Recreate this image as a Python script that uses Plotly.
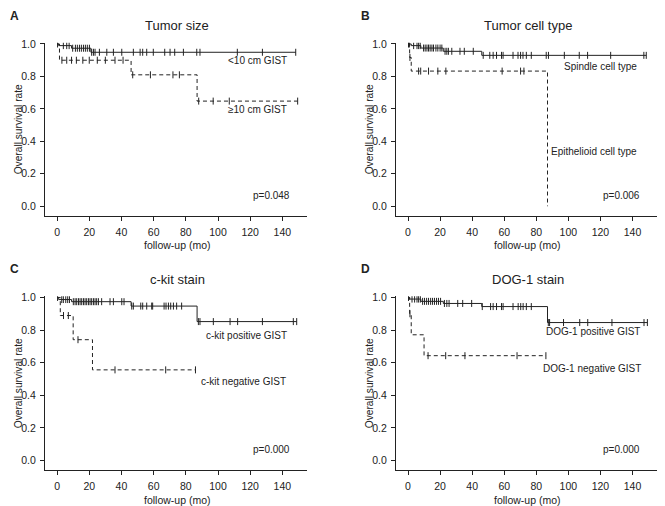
import plotly.graph_objects as go

# page body has an 8px margin, so the figure is drawn 8px smaller and shifted
W, H = 665, 506
OFF = 8
FW, FH = W - OFF, H - OFF
INK = "#222222"
FONT = "Liberation Sans, Arial, sans-serif"

# ---- A: tumor size ----
a_small_t = [0, 1, 9, 21]
a_small_s = [1.0, 0.99, 0.974, 0.949]
a_small_end = 148.3
a_small_cens = [0.3, 3.9, 6, 7.5, 9.7, 11.4, 12.6, 13.9, 15.1, 16.4, 17.6, 18.8, 20.1,
                21.5, 22.6, 23.6, 26.3, 30.9, 35, 40.2, 47.4, 51.6, 53.2, 55.7, 59.8,
                66.9, 70.2, 73.1, 78.5, 86.8, 88.8, 112, 127.6, 148.3]
a_large_t = [0, 1.5, 46, 87]
a_large_s = [1.0, 0.9, 0.81, 0.648]
a_large_end = 149.5
a_large_cens = [3, 6, 9, 12, 16, 20, 25, 30, 36, 41, 47, 58, 72, 76, 88, 97, 107, 149.5]

# ---- B: tumor cell type ----
b_spin_t = [0, 2, 8, 22, 46]
b_spin_s = [1.0, 0.99, 0.975, 0.955, 0.93]
b_spin_end = 148.6
b_spin_cens = [0.3, 0.8, 3.5, 5.6, 6.6, 7.6, 9.7, 10.7, 11.8, 12.8, 13.8, 14.9, 15.9, 17.4,
               18.6, 20, 21.1, 23.1, 24.2, 25.2, 27.3, 32.4, 35.1, 40.7, 46.9, 51, 53.1,
               55.2, 58.3, 59.3, 65.5, 68.6, 70.2, 71.7, 73.8, 76.9, 86.2, 87.6, 97.5,
               106.8, 112, 126.4, 147.1, 148.6]
b_epi_t = [0, 1, 2, 87]
b_epi_s = [1.0, 0.917, 0.833, 0.0]
b_epi_end = 87
b_epi_cens = [1.2, 6.6, 7.9, 12.8, 18.6, 23.6, 58.7, 70.2, 72.3]

# ---- C: c-kit stain ----
c_pos_t = [0, 1, 9, 46, 87]
c_pos_s = [1.0, 0.987, 0.974, 0.947, 0.852]
c_pos_end = 148.9
c_pos_cens = [0.3, 2.9, 3.9, 5.4, 6.6, 7.7, 10.1, 11.2, 12.2, 13.3, 14.3, 15.3, 16.4, 17.4,
              18.4, 19.5, 20.5, 21.5, 22.6, 23.6, 24.6, 25.7, 27.7, 32.9, 35, 40.2, 41.6,
              46.4, 47.4, 52, 53.2, 55.7, 58.8, 59.4, 66.5, 67.7, 69.2, 70.6, 72.3, 74.3,
              77.4, 87.8, 88.8, 97.1, 107.5, 112.2, 127.6, 146.8, 148.9]
c_neg_t = [0, 2, 10, 22]
c_neg_s = [1.0, 0.889, 0.741, 0.556]
c_neg_end = 86
c_neg_cens = [4, 7, 13, 36, 67.5, 86]

# ---- D: DOG-1 stain ----
d_pos_t = [0, 1, 8, 22, 46, 87]
d_pos_s = [1.0, 0.99, 0.976, 0.963, 0.944, 0.846]
d_pos_end = 149.3
d_pos_cens = [0.3, 2.5, 4.1, 5.6, 6.6, 7.7, 9.1, 10.3, 11.6, 12.8, 14.1, 15.3, 16.5, 17.8,
              19, 20.3, 22.7, 24.2, 25.6, 31, 34.1, 39.7, 46.3, 51.5, 53.1, 55.2, 58.3,
              59.3, 65.5, 68.7, 70.3, 71.8, 73.8, 76.9, 87.5, 88.3, 97, 107.1, 112.1,
              127.2, 147.2, 149.3]
d_neg_t = [0, 1, 2, 10]
d_neg_s = [1.0, 0.9, 0.771, 0.643]
d_neg_end = 86
d_neg_cens = [1.2, 12.5, 23.5, 35.5, 68, 86]

x_ticks = [0, 20, 40, 60, 80, 100, 120, 140]
y_ticks = [0.0, 0.2, 0.4, 0.6, 0.8, 1.0]


def level(times, surv, t):
    s = surv[0]
    for ti, si in zip(times, surv):
        if t >= ti:
            s = si
    return s


def px(x):
    return (x - OFF) / FW


def py(y):
    return 1 - (y - OFF) / FH


panels = [
    dict(letter="A", title="Tumor size", p="p=0.048",
         curves=[(a_small_t, a_small_s, a_small_end, a_small_cens, "solid"),
                 (a_large_t, a_large_s, a_large_end, a_large_cens, "dash")],
         labels=[("<10 cm GIST", 105, 0.90), ("\u226510 cm GIST", 105, 0.595)],
         box=(45, 307, 38, 213)),
    dict(letter="B", title="Tumor cell type", p="p=0.006",
         curves=[(b_spin_t, b_spin_s, b_spin_end, b_spin_cens, "solid"),
                 (b_epi_t, b_epi_s, b_epi_end, b_epi_cens, "dash")],
         labels=[("Spindle cell type", 96, 0.86), ("Epithelioid cell type", 87.8, 0.335)],
         box=(396, 657, 38, 213)),
    dict(letter="C", title="c-kit stain", p="p=0.000",
         curves=[(c_pos_t, c_pos_s, c_pos_end, c_pos_cens, "solid"),
                 (c_neg_t, c_neg_s, c_neg_end, c_neg_cens, "dash")],
         labels=[("c-kit positive GIST", 91, 0.765), ("c-kit negative GIST", 88, 0.483)],
         box=(45, 307, 294, 470)),
    dict(letter="D", title="DOG-1 stain", p="p=0.000",
         curves=[(d_pos_t, d_pos_s, d_pos_end, d_pos_cens, "solid"),
                 (d_neg_t, d_neg_s, d_neg_end, d_neg_cens, "dash")],
         labels=[("DOG-1 positive GIST", 85, 0.79), ("DOG-1 negative GIST", 83, 0.562)],
         box=(396, 657, 294, 470)),
]

fig = go.Figure()
annotations = []
layout_axes = {}

for i, pan in enumerate(panels):
    n = "" if i == 0 else str(i + 1)
    xa, ya = "x" + n, "y" + n
    x0, x1, y0, y1 = pan["box"]
    for times, surv, end, cens, dash in pan["curves"]:
        fig.add_trace(go.Scatter(
            x=times + [end], y=surv + [surv[-1]], mode="lines", line_shape="hv",
            line=dict(color=INK, width=1, dash="solid" if dash == "solid" else "4px,3px"),
            xaxis=xa, yaxis=ya, hoverinfo="skip"))
        fig.add_trace(go.Scatter(
            x=cens, y=[level(times, surv, c) for c in cens], mode="markers",
            marker=dict(symbol="line-ns", size=5, line=dict(color=INK, width=1)),
            xaxis=xa, yaxis=ya, hoverinfo="skip"))

    layout_axes["xaxis" + n] = dict(
        domain=[px(x0), px(x1)], anchor=ya, range=[-7.5, 155.3],
        tickvals=x_ticks, ticks="outside", ticklen=4, tickcolor=INK,
        showline=True, linecolor=INK, linewidth=1, showgrid=False, zeroline=False,
        tickfont=dict(family=FONT, size=10.5, color=INK), ticklabelstandoff=2)
    layout_axes["yaxis" + n] = dict(
        domain=[py(y1), py(y0)], anchor=xa, range=[-0.06, 1.008],
        tickvals=y_ticks, tickformat=".1f", ticks="outside", ticklen=4, tickcolor=INK,
        showline=True, linecolor=INK, linewidth=1, showgrid=False, zeroline=False,
        tickfont=dict(family=FONT, size=10.5, color=INK), ticklabelstandoff=2)

    cx = (x0 + x1) / 2
    annotations += [
        dict(text="<b>%s</b>" % pan["letter"], x=px(x0 - 37), y=py(y0 - 27),
             xref="paper", yref="paper", xanchor="left", yanchor="middle",
             showarrow=False, font=dict(family=FONT, size=12, color=INK)),
        dict(text=pan["title"], x=px(cx + 1), y=py(y0 - 17),
             xref="paper", yref="paper", xanchor="center", yanchor="middle",
             showarrow=False, font=dict(family=FONT, size=13, color=INK)),
        dict(text="follow-up (mo)", x=px(cx + 1), y=py(y1 + 29.5),
             xref="paper", yref="paper", xanchor="center", yanchor="middle",
             showarrow=False, font=dict(family=FONT, size=10.5, color=INK)),
        dict(text="Overall survival rate", x=px(x0 - 27), y=py((y0 + y1) / 2),
             xref="paper", yref="paper", xanchor="center", yanchor="middle",
             textangle=-90, showarrow=False, font=dict(family=FONT, size=10.2, color=INK)),
        dict(text=pan["p"], x=146, y=0.065, xref=xa, yref=ya,
             xanchor="right", yanchor="middle", showarrow=False,
             font=dict(family=FONT, size=10, color=INK)),
    ]
    for txt, lx, ly in pan["labels"]:
        annotations.append(dict(text=txt, x=lx, y=ly, xref=xa, yref=ya,
                                xanchor="left", yanchor="middle", showarrow=False,
                                font=dict(family=FONT, size=10, color=INK)))

fig.update_layout(
    width=FW, height=FH, margin=dict(l=0, r=0, t=0, b=0),
    paper_bgcolor="white", plot_bgcolor="white", showlegend=False,
    annotations=annotations, **layout_axes)

fig.write_html("out.html")
